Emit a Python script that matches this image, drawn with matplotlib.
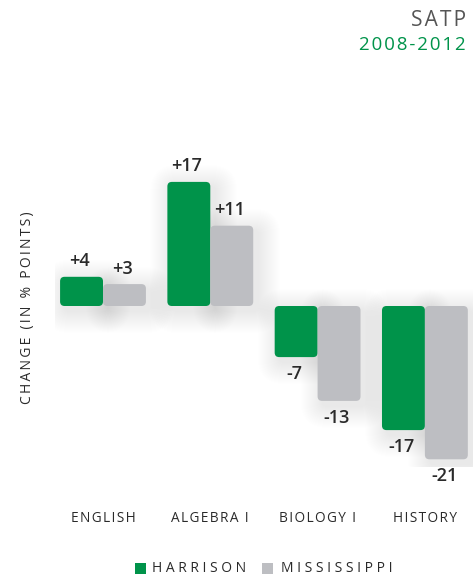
import numpy as np
import matplotlib.pyplot as plt
from matplotlib.patches import FancyBboxPatch, Rectangle

subjects = ["ENGLISH", "ALGEBRA I", "BIOLOGY I", "HISTORY"]
harrison = [4, 17, -7, -17]
mississippi = [3, 11, -13, -21]
series_names = ["HARRISON", "MISSISSIPPI"]

GREEN = "#00934a"
GRAY = "#bdbec2"
TXT = "#2a2a2a"

plt.rcParams['font.family'] = ['Open Sans', 'DejaVu Sans']


def spaced(s, sep="\u200a"):
    # fake letter tracking
    return sep.join(s)


W, H = 474, 576
fig = plt.figure(figsize=(W / 100, H / 100), dpi=100)

# axes placed in pixels: zero line at y=306, 7.3 px per point, 107.3 px per group
xmin, xmax = -0.45, 3.45
ymin, ymax = -22, 20
px_x = 107.3
px_y = 7.3
left = 103 + xmin * px_x
right = 103 + xmax * px_x
top = 306 - ymax * px_y
bottom = 306 - ymin * px_y
ax = fig.add_axes([left / W, 1 - bottom / H, (right - left) / W, (bottom - top) / H])
ax.set_xlim(xmin, xmax)
ax.set_ylim(ymin, ymax)
ax.axis('off')

x = np.arange(len(subjects))
bw = 0.4
aspect = px_x / px_y
rs = 4.5 / px_x

bars_h = ax.bar(x - bw / 2, harrison, bw, color=GREEN)
bars_m = ax.bar(x + bw / 2, mississippi, bw, color=GRAY)


def rounded(rect, color):
    x0, y0 = rect.get_x(), rect.get_y()
    w, h = rect.get_width(), rect.get_height()
    if h < 0:
        y0, h = y0 + h, -h
    # soft blurred shadow built from stacked translucent boxes
    for k in range(22):
        g = (k + 1) * 1.0
        sh = FancyBboxPatch((x0 + 5 / px_x, y0 - 5 / px_y), w, h,
                            boxstyle=f"round,pad={g / px_x},rounding_size={(5 + g) / px_x}",
                            mutation_aspect=aspect, fc="black", ec="none",
                            alpha=0.0055, zorder=1)
        ax.add_patch(sh)
    p = FancyBboxPatch((x0, y0), w, h, boxstyle=f"round,pad=0,rounding_size={rs}",
                       mutation_aspect=aspect, fc=color, ec="none", zorder=3)
    ax.add_patch(p)
    rect.remove()


for r in list(bars_h):
    rounded(r, GREEN)
for r in list(bars_m):
    rounded(r, GRAY)

# value labels
for vals, off in [(harrison, -bw / 2), (mississippi, bw / 2)]:
    for i, v in enumerate(vals):
        lab = f"+{v}" if v > 0 else f"-{abs(v)}"
        if v > 0:
            ax.text(i + off - 0.02, v + 0.9, lab, ha='center', va='bottom',
                    fontsize=13, color=TXT, fontweight='semibold', zorder=4)
        else:
            ax.text(i + off - 0.02, v - 1.1, lab, ha='center', va='top',
                    fontsize=13, color=TXT, fontweight='semibold', zorder=4)

# category labels
for i, s in enumerate(subjects):
    fig.text((103 + i * px_x) / W, 1 - 519 / H, spaced(s), ha='center', va='center',
             fontsize=9.8, color=TXT)

# y label
fig.text(28 / W, 1 - 308 / H, spaced("CHANGE (IN % POINTS)", "\u2009"), rotation=90,
         ha='center', va='center', fontsize=10, color=TXT)

# title
fig.text(466 / W, 1 - 20 / H, spaced("SATP"), ha='right', va='center', fontsize=15,
         color="#555555")
fig.text(466 / W, 1 - 45 / H, spaced("2008-2012"), ha='right', va='center', fontsize=13.5,
         color=GREEN)

# legend
for (lx, tx), name, col in zip([(135, 152), (262, 281)], series_names, [GREEN, GRAY]):
    fig.patches.append(Rectangle((lx / W, 1 - 574 / H), 11 / W, 11 / H,
                                 transform=fig.transFigure, fc=col, ec='none'))
    fig.text(tx / W, 1 - 568 / H, spaced(name, "\u2009\u200a"), ha='left', va='center',
             fontsize=10, color=TXT)

fig.savefig("out.png", dpi=100)
